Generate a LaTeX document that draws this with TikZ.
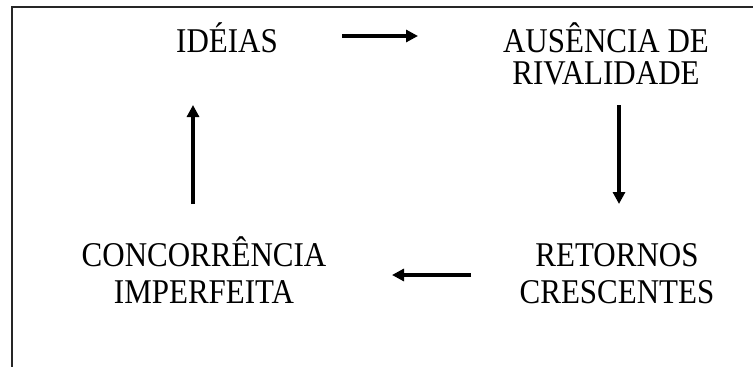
\documentclass[tikz,border=0pt]{standalone}
\usepackage{fontspec}
\setmainfont{Liberation Serif}
\usetikzlibrary{arrows.meta}
\begin{document}
\begin{tikzpicture}[x=1pt,y=-1pt,
  lbl/.style={inner sep=0pt,anchor=base,align=center,transform shape,yscale=1.12,font=\fontsize{31}{30}\selectfont},
  arr/.style={line width=3.5pt,-{Triangle[length=12pt,width=12pt]}},
  frame/.style={line width=1.8pt,black!85}]
\useasboundingbox (0,0) rectangle (753,367);
\draw[frame] (12,367) -- (12,7) -- (753,7);
\node[lbl] (ideias) at (227,52) {IDÉIAS};
\node[lbl,font=\fontsize{31}{28.5}\selectfont] (ausencia) at (606,84) {AUSÊNCIA DE\\RIVALIDADE};
\node[lbl,font=\fontsize{31}{33}\selectfont] (retornos) at (617,303) {RETORNOS\\CRESCENTES};
\node[lbl,font=\fontsize{31}{33}\selectfont] (concorr) at (204,303) {CONCORRÊNCIA\\IMPERFEITA};
\coordinate (a1s) at (342,36);
\coordinate (a1e) at (418,36);
\coordinate (a2s) at (619,105);
\coordinate (a2e) at (619,204);
\coordinate (a3s) at (471,275);
\coordinate (a3e) at (392,275);
\coordinate (a4s) at (193,204);
\coordinate (a4e) at (193,105);
\draw[arr] (a1s) -- (a1e);
\draw[arr] (a2s) -- (a2e);
\draw[arr] (a3s) -- (a3e);
\draw[arr] (a4s) -- (a4e);
\end{tikzpicture}
\end{document}
